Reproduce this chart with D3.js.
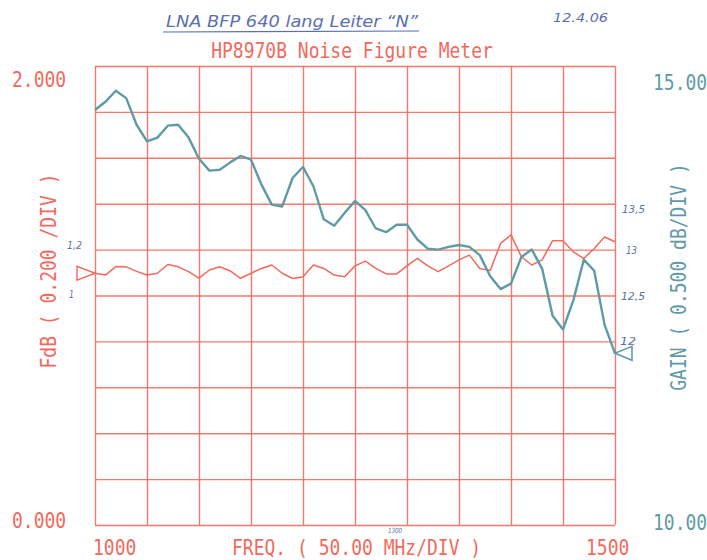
<!DOCTYPE html>
<html>
<head>
<meta charset="utf-8">
<script src="https://cdn.jsdelivr.net/npm/d3@7"></script>
<style>
  body { margin: 0; background: #fff; }
  svg { display: block; }
  .plot { font-family: "DejaVu Sans Mono", monospace; }
  .hand { font-family: "DejaVu Sans", sans-serif; font-style: italic; fill: #5a6fb0; }
</style>
</head>
<body>
<div id="chart"></div>
<script>
// sweep 1000..1500 MHz, 10 MHz step
var freq = d3.range(1000, 1501, 10);

// noise figure, dB (left scale)
var noiseFig = [
  1.097, 1.089, 1.126, 1.125, 1.105, 1.089, 1.097, 1.135, 1.125, 1.104,
  1.076, 1.111, 1.125, 1.107, 1.075, 1.097, 1.118, 1.133, 1.097, 1.074,
  1.082, 1.133, 1.118, 1.089, 1.082, 1.129, 1.150, 1.118, 1.094, 1.094,
  1.129, 1.162, 1.129, 1.104, 1.129, 1.155, 1.176, 1.118, 1.109, 1.227,
  1.264, 1.169, 1.133, 1.155, 1.239, 1.239, 1.190, 1.161, 1.205, 1.255,
  1.234
];

// gain, dB (right scale)
var gain = [
  14.52, 14.61, 14.73, 14.65, 14.36, 14.18, 14.22, 14.35, 14.36, 14.22,
  13.99, 13.86, 13.87, 13.95, 14.02, 13.98, 13.71, 13.49, 13.47, 13.78,
  13.90, 13.69, 13.33, 13.26, 13.40, 13.53, 13.43, 13.23, 13.19, 13.27,
  13.27, 13.11, 13.01, 13.00, 13.03, 13.05, 13.03, 12.94, 12.71, 12.57,
  12.63, 12.92, 13.00, 12.79, 12.28, 12.13, 12.45, 12.89, 12.77, 12.18,
  11.87
];

var freqGrid = d3.range(1000, 1501, 50);
var nfGrid = d3.range(0, 2.001, 0.2);
var freqLabels = ["1000", "1500"];
var nfLabels = ["2.000", "0.000"];
var gainLabels = ["15.00", "10.00"];

// hand written notes on the plot
var notes = [
  { t: "LNA BFP 640 lang Leiter \u201cN\u201d", x: 166, y: 27, s: 15, w: 252 },
  { t: "12.4.06", x: 553, y: 22, s: 12, w: 55 },
  { t: "1,2", x: 67, y: 249, s: 10, w: 15 },
  { t: "1", x: 69, y: 298, s: 10, w: 5 },
  { t: "13,5", x: 622, y: 213, s: 10, w: 23 },
  { t: "13", x: 626, y: 254, s: 10, w: 11 },
  { t: "12,5", x: 621, y: 300, s: 10, w: 24 },
  { t: "12", x: 620, y: 345, s: 10, w: 16 },
  { t: "1300", x: 388, y: 533, s: 7, w: 14 }
];

var red = "#f26a5d";
var teal = "#5f9ba6";

var W = 707, H = 560;
var margin = { top: 66, right: 92, bottom: 35, left: 95 };
var width = W - margin.left - margin.right;   // 520
var height = H - margin.top - margin.bottom;  // 459

var svg = d3.select("#chart").append("svg")
    .attr("width", W)
    .attr("height", H);

var x = d3.scaleLinear().domain([1000, 1500]).range([margin.left, margin.left + width]);
var yNF = d3.scaleLinear().domain([0, 2]).range([margin.top + height, margin.top]);
var yG = d3.scaleLinear().domain([10, 15]).range([margin.top + height, margin.top]);

// grid (plotter style, drawn with axes)
var gx = svg.append("g")
    .attr("transform", "translate(0," + (margin.top + height) + ")")
    .call(d3.axisBottom(x).tickValues(freqGrid).tickSize(-height).tickFormat(""));
var gy = svg.append("g")
    .attr("transform", "translate(" + margin.left + ",0)")
    .call(d3.axisLeft(yNF).tickValues(nfGrid).tickSize(-width).tickFormat(""));
[gx, gy].forEach(function(g) {
  g.select(".domain").remove();
  g.selectAll("line").attr("stroke", red).attr("stroke-width", 1.4).attr("opacity", 0.9);
});

// curves
var lineNF = d3.line().x(function(d, i) { return x(freq[i]); }).y(function(d) { return yNF(d); });
var lineG = d3.line().x(function(d, i) { return x(freq[i]); }).y(function(d) { return yG(d); });

svg.append("path")
    .datum(noiseFig)
    .attr("d", lineNF)
    .attr("fill", "none")
    .attr("stroke", red)
    .attr("stroke-width", 1.5)
    .attr("stroke-linejoin", "round");

svg.append("path")
    .datum(gain)
    .attr("d", lineG)
    .attr("fill", "none")
    .attr("stroke", teal)
    .attr("stroke-width", 2.4)
    .attr("stroke-linejoin", "round");

// markers: start of NF (left), end of gain (right)
var nfStartY = yNF(noiseFig[0]);
svg.append("path")
    .attr("d", "M" + x(1000) + "," + nfStartY + "L" + (x(1000) - 18) + "," + (nfStartY - 7) +
               "L" + (x(1000) - 18) + "," + (nfStartY + 7) + "Z")
    .attr("fill", "none").attr("stroke", red).attr("stroke-width", 1.4);

var gEndY = yG(gain[gain.length - 1]);
svg.append("path")
    .attr("d", "M" + x(1500) + "," + gEndY + "L" + (x(1500) + 17) + "," + (gEndY - 7) +
               "L" + (x(1500) + 17) + "," + (gEndY + 7) + "Z")
    .attr("fill", "none").attr("stroke", teal).attr("stroke-width", 1.6);

// plotter text: mono font stretched vertically
function ptext(str, px, py, color, anchor, rot) {
  var t = "translate(" + px + "," + py + ")" + (rot ? " rotate(" + rot + ")" : "") + " scale(1,1.2)";
  return svg.append("text")
      .attr("class", "plot")
      .attr("transform", t)
      .attr("text-anchor", anchor || "start")
      .attr("font-size", 18)
      .attr("fill", color)
      .text(str);
}

ptext("HP8970B Noise Figure Meter", 352, 58, red, "middle");
ptext(nfLabels[0], 12, 87, red);
ptext(nfLabels[1], 12, 528, red);
ptext(gainLabels[0], 653, 90, teal);
ptext(gainLabels[1], 653, 530, teal);
ptext(freqLabels[0], 93, 555, red);
ptext("FREQ. ( 50.00 MHz/DIV )", 232, 555, red);
ptext(freqLabels[1], 586, 555, red);
ptext("FdB  ( 0.200 /DIV )", 56, 271, red, "middle", -90);
ptext("GAIN ( 0.500 dB/DIV )", 686, 277, teal, "middle", -90);

// hand writing
svg.selectAll("text.hand")
    .data(notes)
  .enter().append("text")
    .attr("class", "hand")
    .attr("x", function(d) { return d.x; })
    .attr("y", function(d) { return d.y; })
    .attr("font-size", function(d) { return d.s; })
    .attr("textLength", function(d) { return d.w; })
    .attr("lengthAdjust", "spacingAndGlyphs")
    .text(function(d) { return d.t; });

svg.append("line")
    .attr("x1", 163).attr("x2", 419).attr("y1", 32).attr("y2", 31)
    .attr("stroke", "#5a6fb0").attr("stroke-width", 1.2);
</script>
</body>
</html>
